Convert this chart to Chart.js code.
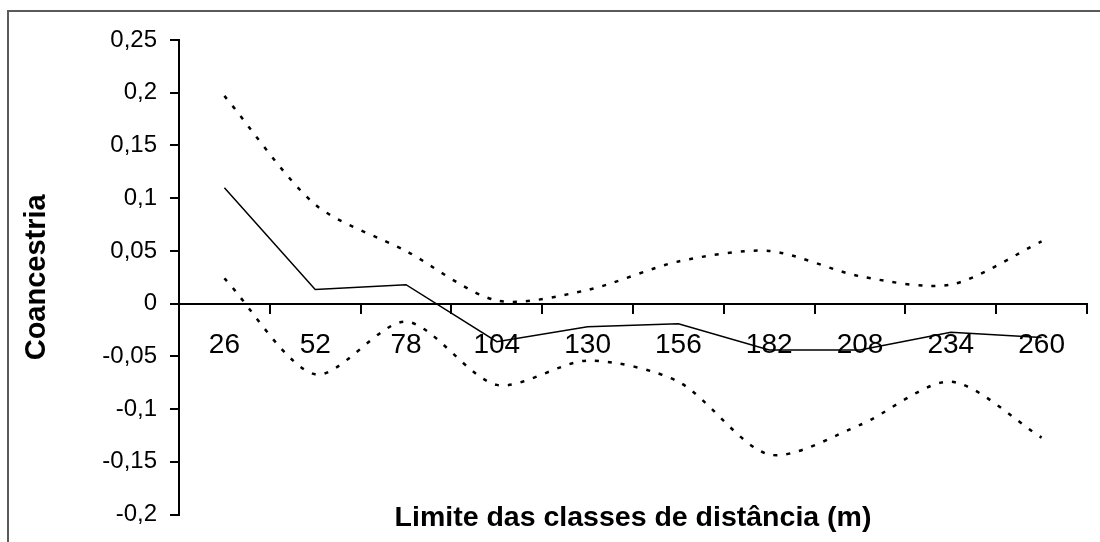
<!DOCTYPE html>
<html lang="pt">
<head>
<meta charset="utf-8">
<title>Coancestria por classe de distância</title>
<script src="https://cdn.jsdelivr.net/npm/chart.js@4/dist/chart.umd.min.js"></script>
<style>
  html, body { margin: 0; padding: 0; background: #fff; }
  #wrap { position: relative; width: 1100px; height: 542px; overflow: hidden; }
  #chart { position: absolute; left: 0; top: 0; }
  #frame {
    position: absolute; left: 7px; top: 10px; right: -4px; bottom: -4px;
    border-top: 2px solid #5a5a5a; border-left: 2px solid #5a5a5a;
    pointer-events: none;
  }
</style>
</head>
<body>
<div id="wrap">
  <canvas id="chart" width="1100" height="542"></canvas>
  <div id="frame"></div>
</div>
<script>
// Distance class limits (m)
const distanceClasses = ['26', '52', '78', '104', '130', '156', '182', '208', '234', '260'];

// Mean coancestry per class
const coancestry = [0.110, 0.0135, 0.018, -0.036, -0.022, -0.019, -0.044, -0.044, -0.027, -0.032];

// Upper and lower confidence limits
const upperLimit = [0.197, 0.094, 0.050, 0.003, 0.013, 0.040, 0.050, 0.026, 0.018, 0.059];
const lowerLimit = [0.024, -0.067, -0.017, -0.077, -0.054, -0.074, -0.143, -0.115, -0.074, -0.127];

// Y axis ticks and their labels (decimal comma)
const yTickValues = [-0.2, -0.15, -0.1, -0.05, 0, 0.05, 0.1, 0.15, 0.2, 0.25];
const yTickLabels = ['-0,2', '-0,15', '-0,1', '-0,05', '0', '0,05', '0,1', '0,15', '0,2', '0,25'];

const FONT = '"Liberation Sans", Arial, Helvetica, sans-serif';

const dotted = {
  borderColor: '#000',
  borderWidth: 2.5,
  borderDash: [4, 9],
  borderCapStyle: 'butt',
  pointRadius: 0,
  tension: 0.28,
  fill: false
};

new Chart(document.getElementById('chart'), {
  type: 'line',
  data: {
    labels: distanceClasses,
    datasets: [
      Object.assign({ label: 'Limite superior', data: upperLimit }, dotted),
      {
        label: 'Coancestria',
        data: coancestry,
        borderColor: '#000',
        borderWidth: 1.5,
        pointRadius: 0,
        tension: 0,
        fill: false
      },
      Object.assign({ label: 'Limite inferior', data: lowerLimit }, dotted)
    ]
  },
  options: {
    responsive: false,
    animation: false,
    devicePixelRatio: 1,
    layout: { padding: { top: 40, bottom: 26, left: 0, right: 13 } },
    plugins: {
      legend: { display: false },
      tooltip: { enabled: false }
    },
    scales: {
      x: {
        type: 'category',
        position: { y: 0 },
        offset: true,
        grid: {
          offset: true,
          drawOnChartArea: false,
          drawTicks: true,
          tickLength: 9,
          color: '#000',
          lineWidth: 2
        },
        border: { display: true, color: '#000', width: 2 },
        ticks: {
          color: '#000',
          font: { family: FONT, size: 28 },
          padding: 16,
          maxRotation: 0,
          minRotation: 0,
          autoSkip: false
        },
        title: {
          display: true,
          text: 'Limite das classes de distância (m)',
          color: '#000',
          font: { family: FONT, size: 28.5, weight: 'bold' },
          padding: { top: 123, bottom: 0 }
        }
      },
      y: {
        position: 'left',
        min: -0.2,
        max: 0.25,
        afterBuildTicks: (scale) => {
          scale.ticks = yTickValues.map(v => ({ value: v }));
        },
        afterFit: (scale) => { scale.width = 179; },
        grid: {
          drawOnChartArea: false,
          drawTicks: true,
          tickLength: 9,
          color: '#000',
          lineWidth: 2
        },
        border: { display: true, color: '#000', width: 2 },
        ticks: {
          color: '#000',
          font: { family: FONT, size: 24 },
          padding: 13,
          callback: (value, index) => yTickLabels[index]
        },
        title: {
          display: true,
          text: 'Coancestria',
          color: '#000',
          font: { family: FONT, size: 29, weight: 'bold' },
          padding: { top: 20, bottom: 0 }
        }
      }
    }
  }
});
</script>
</body>
</html>
